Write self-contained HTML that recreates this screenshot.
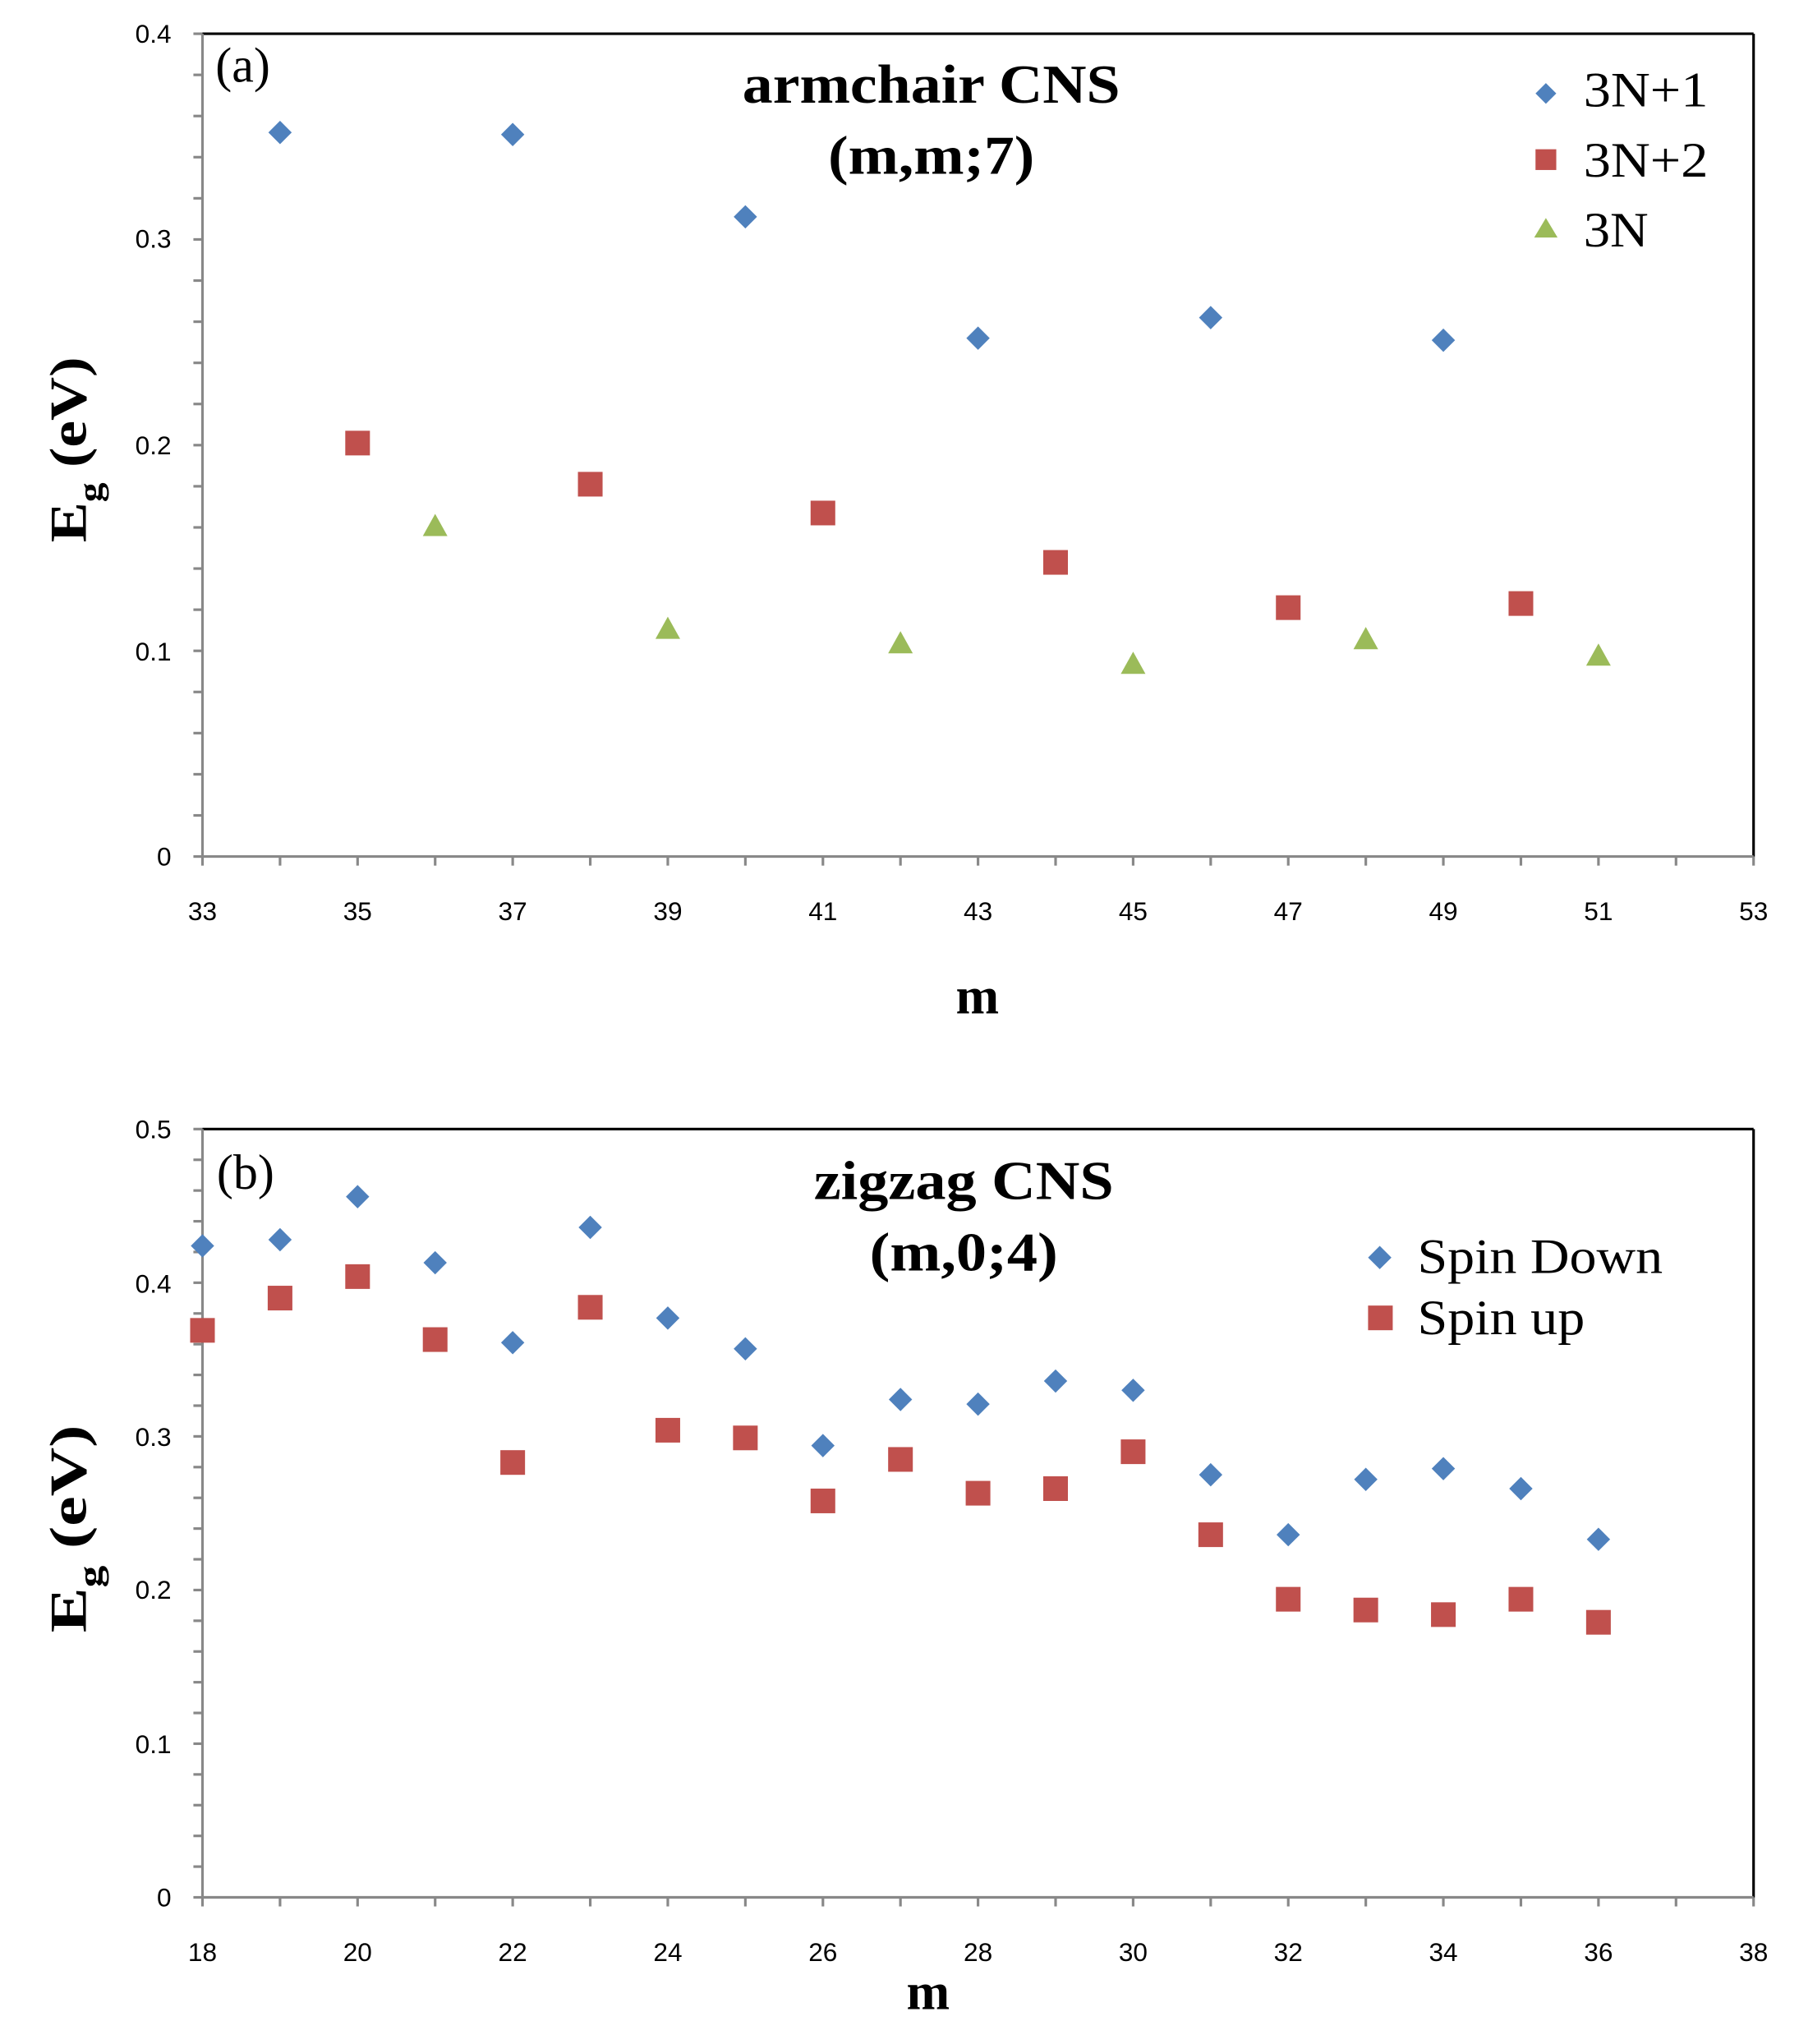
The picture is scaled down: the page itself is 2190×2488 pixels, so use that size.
<!DOCTYPE html>
<html><head><meta charset="utf-8"><style>
html,body{margin:0;padding:0;background:#fff;}
svg{display:block;}
.t{font-family:"Liberation Sans",sans-serif;font-size:20px;fill:#000;}
.s{font-family:"Liberation Serif",serif;fill:#000;}
</style></head><body>
<svg width="2190" height="2488" viewBox="0 0 1386 1575" preserveAspectRatio="none" xmlns="http://www.w3.org/2000/svg">
<rect width="1386" height="1575" fill="#fff"/>
<g id="a">
<line x1="156" y1="26" x2="1351" y2="26" stroke="#000" stroke-width="2"/>
<line x1="1351" y1="26" x2="1351" y2="660" stroke="#000" stroke-width="2"/>
<line x1="156" y1="26" x2="156" y2="660" stroke="#888" stroke-width="2"/>
<line x1="156" y1="660" x2="1351" y2="660" stroke="#888" stroke-width="2"/>
<g stroke="#888" stroke-width="2" id="ta"></g>
<g class="t" text-anchor="end">
<text x="132" y="667">0</text><text x="132" y="509">0.1</text><text x="132" y="350">0.2</text><text x="132" y="191">0.3</text><text x="132" y="33">0.4</text>
</g>
<g class="t" text-anchor="middle" id="xla"></g>
<text class="s" x="166" y="63" font-size="38">(a)</text>
<text class="s" x="572" y="79" font-size="42" font-weight="bold" textLength="291" lengthAdjust="spacingAndGlyphs">armchair CNS</text>
<text class="s" x="638" y="134" font-size="42" font-weight="bold" textLength="159" lengthAdjust="spacingAndGlyphs">(m,m;7)</text>
<text class="s" x="753" y="781" font-size="40" font-weight="bold" text-anchor="middle">m</text>
<text class="s" font-size="40" font-weight="bold" transform="translate(66,418) rotate(-90)" textLength="143" lengthAdjust="spacingAndGlyphs">E<tspan font-size="26" dy="12">g</tspan><tspan dy="-12"> (eV)</tspan></text>
<path d="M1191 64l8 8-8 8-8-8z" fill="#4f81bd"/>
<rect x="1183" y="115" width="16" height="16" fill="#c0504d"/>
<path d="M1191 168l9 15h-18z" fill="#9bbb59"/>
<text class="s" x="1220" y="82" font-size="38" textLength="96" lengthAdjust="spacingAndGlyphs">3N+1</text>
<text class="s" x="1220" y="136" font-size="38" textLength="96" lengthAdjust="spacingAndGlyphs">3N+2</text>
<text class="s" x="1220" y="190" font-size="38" textLength="50" lengthAdjust="spacingAndGlyphs">3N</text>
<g id="pa"></g>
</g>
<g id="b">
<line x1="156" y1="870" x2="1351" y2="870" stroke="#000" stroke-width="2"/>
<line x1="1351" y1="870" x2="1351" y2="1462" stroke="#000" stroke-width="2"/>
<line x1="156" y1="870" x2="156" y2="1462" stroke="#888" stroke-width="2"/>
<line x1="156" y1="1462" x2="1351" y2="1462" stroke="#888" stroke-width="2"/>
<g stroke="#888" stroke-width="2" id="tb"></g>
<g class="t" text-anchor="end">
<text x="132" y="1469">0</text><text x="132" y="1351">0.1</text><text x="132" y="1232">0.2</text><text x="132" y="1114">0.3</text><text x="132" y="996">0.4</text><text x="132" y="877">0.5</text>
</g>
<g class="t" text-anchor="middle" id="xlb"></g>
<text class="s" x="167" y="916" font-size="38">(b)</text>
<text class="s" x="627" y="924" font-size="42" font-weight="bold" textLength="231" lengthAdjust="spacingAndGlyphs">zigzag CNS</text>
<text class="s" x="670" y="979" font-size="42" font-weight="bold" textLength="145" lengthAdjust="spacingAndGlyphs">(m,0;4)</text>
<text class="s" x="715" y="1548" font-size="40" font-weight="bold" text-anchor="middle">m</text>
<text class="s" font-size="40" font-weight="bold" transform="translate(66,1258) rotate(-90)" textLength="160" lengthAdjust="spacingAndGlyphs">E<tspan font-size="26" dy="12">g</tspan><tspan dy="-12"> (eV)</tspan></text>
<path d="M1063 960l9 9-9 9-9-9z" fill="#4f81bd"/>
<rect x="1054" y="1006" width="19" height="19" fill="#c0504d"/>
<text class="s" x="1092" y="981" font-size="38" textLength="189" lengthAdjust="spacingAndGlyphs">Spin Down</text>
<text class="s" x="1092" y="1028" font-size="38" textLength="129" lengthAdjust="spacingAndGlyphs">Spin up</text>
<g id="pb"></g>
</g>
<script>
var NS="http://www.w3.org/2000/svg";
function el(p,t,a,txt){var e=document.createElementNS(NS,t);for(var k in a)e.setAttribute(k,a[k]);if(txt!==undefined)e.textContent=txt;p.appendChild(e);return e;}
function axes(tid,lid,x0,ybot,ytop,nmin,xstart,ystep){
 var g=document.getElementById(tid),l=document.getElementById(lid);
 for(var i=0;i<=nmin;i++){var y=ybot-(ybot-ytop)*i/nmin;el(g,'line',{x1:149,y1:y,x2:156,y2:y});}
 for(var i=0;i<=20;i++){var x=156+59.75*i;el(g,'line',{x1:x,y1:ybot,x2:x,y2:ybot+7});
  if(i%2==0)el(l,'text',{x:x,y:ybot+49},String(xstart+i));}
}
axes('ta','xla',156,660,26,20,33);
axes('tb','xlb',156,1462,870,25,18);
function dia(g,x,y,r,c){el(g,'path',{d:'M'+x+' '+(y-r)+'l'+r+' '+r+'-'+r+' '+r+'-'+r+'-'+r+'z',fill:c});}
function sq(g,x,y,s,c){el(g,'rect',{x:x-s/2,y:y-s/2,width:s,height:s,fill:c});}
function tri(g,x,y,s,c){el(g,'path',{d:'M'+x+' '+(y-s*0.55)+'l'+(s/2)+' '+s*0.9+'h'+(-s)+'z',fill:c});}
var pa=document.getElementById('pa');
var X=function(m){return 156+(m-33)*59.75},Y=function(v){return 660-v*1585};
[[34,.352],[37,.351],[40,.311],[43,.252],[46,.262],[49,.251]].forEach(function(d){dia(pa,X(d[0]),Y(d[1]),9,'#4f81bd')});
[[35,.201],[38,.181],[41,.167],[44,.143],[47,.121],[50,.123]].forEach(function(d){sq(pa,X(d[0]),Y(d[1]),19,'#c0504d')});
[[36,.160],[39,.110],[42,.103],[45,.093],[48,.105],[51,.097]].forEach(function(d){tri(pa,X(d[0]),Y(d[1]),19,'#9bbb59')});
var pb=document.getElementById('pb');
var X2=function(m){return 156+(m-18)*59.75},Y2=function(v){return 1462-v*1184};
var dn=[.424,.428,.456,.413,.361,.436,.377,.357,.294,.324,.321,.336,.330,.275,.236,.272,.279,.266,.233];
var up=[.369,.390,.404,.363,.283,.384,.304,.299,.258,.285,.263,.266,.290,.236,.194,.187,.184,.194,.179];
up.forEach(function(v,i){sq(pb,X2(18+i),Y2(v),19,'#c0504d')});
dn.forEach(function(v,i){dia(pb,X2(18+i),Y2(v),9,'#4f81bd')});
</script>
</svg>
</body></html>
